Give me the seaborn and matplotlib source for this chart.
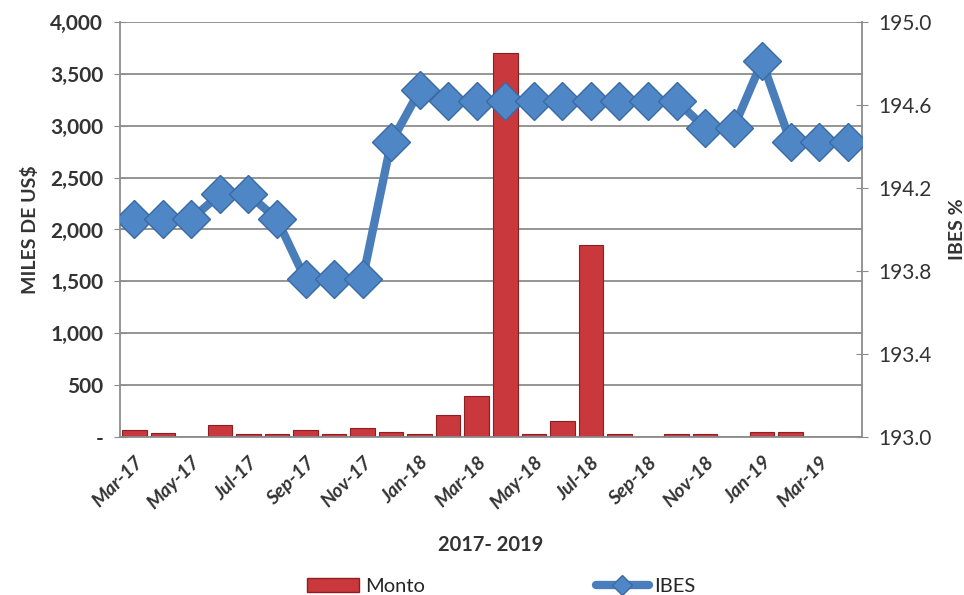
import pandas as pd
import matplotlib.pyplot as plt
import seaborn as sns
from matplotlib.patches import Patch
from matplotlib.lines import Line2D

# monthly data Mar-17 .. Apr-19
months = ["Mar-17", "Apr-17", "May-17", "Jun-17", "Jul-17", "Aug-17", "Sep-17",
          "Oct-17", "Nov-17", "Dec-17", "Jan-18", "Feb-18", "Mar-18", "Apr-18",
          "May-18", "Jun-18", "Jul-18", "Aug-18", "Sep-18", "Oct-18", "Nov-18",
          "Dec-18", "Jan-19", "Feb-19", "Mar-19", "Apr-19"]
monto = [65, 35, 0, 120, 30, 30, 70, 30, 90, 50, 30, 215, 400, 3700,
         30, 150, 1850, 25, 0, 25, 25, 0, 45, 45, 0, 0]
ibes = [194.05, 194.05, 194.05, 194.17, 194.17, 194.05, 193.76, 193.76, 193.76,
        194.42, 194.67, 194.62, 194.62, 194.62, 194.62, 194.62, 194.62, 194.62,
        194.62, 194.62, 194.49, 194.49, 194.81, 194.42, 194.42, 194.42]
left_ticks = [0, 500, 1000, 1500, 2000, 2500, 3000, 3500, 4000]
left_labels = ["-", "500", "1,000", "1,500", "2,000", "2,500", "3,000", "3,500", "4,000"]
right_ticks = [193.0, 193.4, 193.8, 194.2, 194.6, 195.0]

df = pd.DataFrame({"mes": months, "Monto": monto, "IBES": ibes, "pos": range(len(months))})

sns.set_style("white")
plt.rcParams['font.family'] = ['Lato', 'DejaVu Sans']

fig = plt.figure(figsize=(9.64, 5.95), dpi=100)
ax = fig.add_axes([120/964, 1-437/595, (862-120)/964, (437-22)/595])
grid_c = "#8C8C8C"
txt_c = "#333333"

sns.barplot(data=df, x="mes", y="Monto", ax=ax, color="#C8383C", width=0.86,
            edgecolor="#8E1E22", linewidth=0.8, saturation=1, zorder=2)
ax.set_ylim(0, 4000)
ax.set_xlim(-0.5, len(months) - 0.5)
ax.set_yticks(left_ticks)
ax.set_yticklabels(left_labels, fontsize=15, fontweight="bold", color=txt_c)
ax.yaxis.grid(True, color=grid_c, linewidth=1.3, zorder=0)
ax.set_axisbelow(True)
ax.tick_params(axis="y", direction="inout", length=8, color=grid_c, pad=8)

# x: labels every 2 months, tick marks at category borders
lab_pos = list(range(0, len(months), 2))
ax.set_xticks(lab_pos)
ax.set_xticklabels([months[i] for i in lab_pos], rotation=45, ha="right",
                   rotation_mode="anchor", fontsize=14, fontweight="bold",
                   fontstyle="italic", color=txt_c)
ax.tick_params(axis="x", which="major", length=0, pad=12)
ax.set_xticks([i - 0.5 for i in range(0, len(months) + 1, 2)], minor=True)
ax.tick_params(axis="x", which="minor", length=7, color=grid_c)
for s in ["left", "bottom", "right"]:
    ax.spines[s].set_color(grid_c)
    ax.spines[s].set_linewidth(1.3)
ax.spines["top"].set_visible(False)
ax.set_xlabel("2017- 2019", fontsize=14.5, fontweight="bold", color=txt_c, labelpad=16)
ax.set_ylabel("MILES DE US$", fontsize=14, fontweight="bold", color=txt_c, labelpad=8)

ax2 = ax.twinx()
sns.lineplot(data=df, x="pos", y="IBES", ax=ax2, color="#4A7EBB", linewidth=6,
             marker="D", markersize=19, markerfacecolor="#4F86C6",
             markeredgecolor="#3A6AA3", markeredgewidth=1, zorder=3)
ax2.set_ylim(193.0, 195.0)
ax2.set_yticks(right_ticks)
ax2.set_yticklabels([f"{v:.1f}" for v in right_ticks], fontsize=15, color=txt_c)
ax2.tick_params(axis="y", direction="inout", length=8, color=grid_c, pad=8)
ax2.set_ylabel("IBES %", fontsize=14, fontweight="bold", color=txt_c, labelpad=12)
ax2.set_xlabel("")
for s in ax2.spines.values():
    s.set_visible(False)

# legend at the bottom
handles = [Patch(facecolor="#C8383C", edgecolor="#8E1E22", label="Monto"),
           Line2D([0], [0], color="#4A7EBB", linewidth=6, marker="D", markersize=10,
                  markerfacecolor="#4F86C6", markeredgecolor="#3A6AA3", label="IBES")]
fig.legend(handles=handles, loc="lower center", bbox_to_anchor=(0.52, -0.03), ncol=2,
           frameon=False, fontsize=14.5, columnspacing=8.5, handlelength=2.6,
           handletextpad=0.3)

fig.savefig("out.png", dpi=100)
